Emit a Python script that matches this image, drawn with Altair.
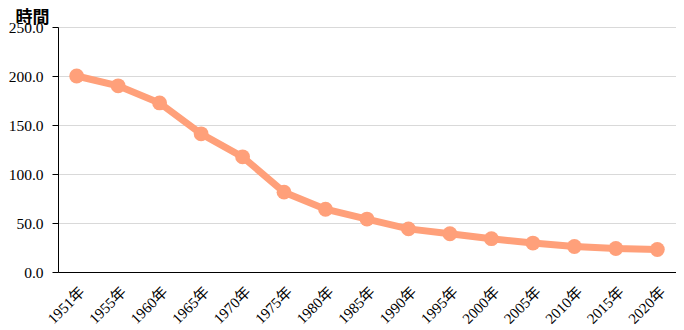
import altair as alt
import pandas as pd

years = ["1951年", "1955年", "1960年", "1965年", "1970年", "1975年", "1980年", "1985年",
         "1990年", "1995年", "2000年", "2005年", "2010年", "2015年", "2020年"]
hours = [200, 190, 172.5, 141, 117.5, 81.5, 64, 54, 44, 39, 34, 29.5, 26, 24, 23]

df = pd.DataFrame({"year": years, "hours": hours})

serif = "Liberation Serif, Noto Sans CJK JP"
color = "#FFA07A"

base = alt.Chart(df).encode(
    x=alt.X("year:N", sort=years, scale=alt.Scale(type="point", padding=0.45),
            axis=alt.Axis(title=None, labelAngle=-45, ticks=False, domainColor="black",
                          labelFont=serif, labelFontSize=15, labelColor="black",
                          labelPadding=12, grid=False)),
    y=alt.Y("hours:Q", scale=alt.Scale(domain=[0, 250]),
            axis=alt.Axis(title="時間", titleAngle=0, titleAlign="left", titleBaseline="bottom",
                          titleX=-43, titleY=-1, titleFont="Noto Sans CJK JP",
                          titleFontSize=17, titleFontWeight="bold", titleColor="black",
                          values=[0, 50, 100, 150, 200, 250], format=".1f",
                          labelFont=serif, labelFontSize=15.5, labelColor="black",
                          labelPadding=9,
                          domainColor="black", tickColor="black", tickSize=6,
                          gridColor="#d9d9d9")),
)

line = base.mark_line(color=color, strokeWidth=7)
pts = base.mark_circle(color=color, size=220, opacity=1)

chart = (line + pts).properties(
    width=618, height=245,
    padding={"left": 0, "top": 0, "right": 0, "bottom": 0},
).configure_view(stroke=None)

chart.save("out.html", embed_options={"renderer": "svg", "actions": False})
